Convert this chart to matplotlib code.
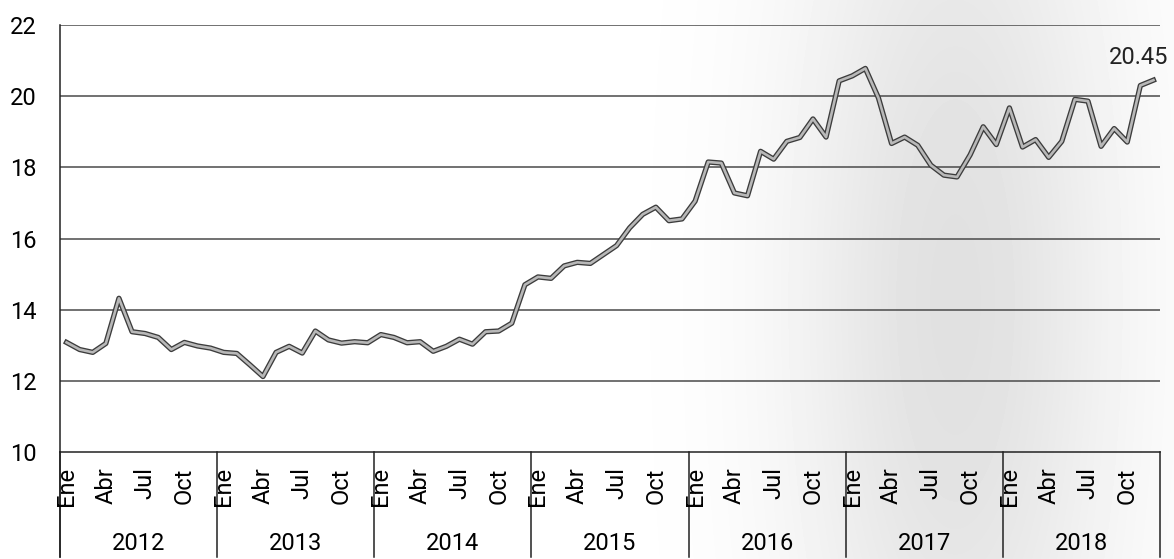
import numpy as np
import matplotlib
matplotlib.use("Agg")
import matplotlib.pyplot as plt
import matplotlib.patheffects as pe

plt.rcParams["font.family"] = ["Roboto", "DejaVu Sans"]

# monthly values, Ene 2012 .. Dic 2018
years = ["2012", "2013", "2014", "2015", "2016", "2017", "2018"]
month_labels = ["Ene", "Abr", "Jul", "Oct"]
v2012 = [13.08, 12.88, 12.80, 13.05, 14.32, 13.38, 13.33, 13.22, 12.88, 13.08, 12.98, 12.92]
v2013 = [12.80, 12.77, 12.45, 12.12, 12.80, 12.97, 12.78, 13.40, 13.15, 13.06, 13.10, 13.07]
v2014 = [13.30, 13.22, 13.07, 13.10, 12.83, 12.97, 13.17, 13.03, 13.38, 13.40, 13.62, 14.70]
v2015 = [14.92, 14.88, 15.23, 15.33, 15.30, 15.55, 15.80, 16.30, 16.68, 16.88, 16.50, 16.55]
v2016 = [17.05, 18.15, 18.12, 17.28, 17.20, 18.45, 18.23, 18.73, 18.84, 19.36, 18.85, 20.43]
v2017 = [20.57, 20.78, 19.95, 18.67, 18.85, 18.62, 18.06, 17.78, 17.73, 18.35, 19.14, 18.64]
v2018 = [19.67, 18.57, 18.78, 18.28, 18.73, 19.91, 19.86, 18.59, 19.09, 18.71, 20.30, 20.45]
last_label = "20.45"

values = v2012 + v2013 + v2014 + v2015 + v2016 + v2017 + v2018
idx = np.arange(len(values))

W, H = 1174, 559
fig = plt.figure(figsize=(W / 100, H / 100), dpi=100)

# faint halftone-like shading from the scanned original (soft edges)
bg = fig.add_axes([0, 0, 1, 1], zorder=-5)
gx, gy = np.meshgrid(np.arange(W), np.arange(H))
shade = 0.12 * np.exp(-((gx - 955) / 165.0) ** 2 - ((gy - 300) / 560.0) ** 2)
bg.imshow(1 - shade, cmap="gray", vmin=0, vmax=1, extent=(0, W, H, 0), aspect="auto")
bg.axis("off")

ax = fig.add_axes([60 / W, 1 - 452 / H, 1100 / W, 427 / H])
ax.patch.set_alpha(0)
ax.set_xlim(-0.5, len(values) - 0.5)
ax.set_ylim(10, 22)

for y in range(12, 23, 2):
    ax.axhline(y, color="#4a4a4a", lw=1.1, zorder=1)

ax.plot(idx, values, color="#b8b8b8", lw=1.9, zorder=3,
        path_effects=[pe.Stroke(linewidth=3.8, foreground="#3c3c3c"), pe.Normal()])
ax.annotate(last_label, xy=(idx[-1], values[-1]), xytext=(11, 8), textcoords="offset points",
            ha="right", va="bottom", fontsize=17, color="#222222")

for s in ["top", "right"]:
    ax.spines[s].set_visible(False)
ax.spines["left"].set_color("#222222")
ax.spines["bottom"].set_color("#222222")
ax.spines["left"].set_linewidth(1.1)
ax.spines["bottom"].set_linewidth(1.1)

ax.set_yticks(range(10, 23, 2))
ax.tick_params(axis="y", length=0, pad=17, labelsize=17)
ax.set_xticks([])

# month + year labels under the axis
trans = ax.get_xaxis_transform()
for k, yr in enumerate(years):
    start = 12 * k
    for j, m in enumerate(month_labels):
        ax.annotate(m, xy=(start + 3 * j, 0), xycoords=trans, xytext=(0, -11),
                    textcoords="offset points", rotation=90, ha="center", va="top", fontsize=17)
    ax.annotate(yr, xy=(start + 5.5, 0), xycoords=trans, xytext=(0, -66),
                textcoords="offset points", ha="center", va="center", fontsize=17)
    ax.plot([start - 0.5, start - 0.5], [0, -0.247], transform=trans, color="#222222",
            lw=1.1, clip_on=False)
ax.plot([len(values) - 0.5] * 2, [0, -0.247], transform=trans, color="#222222",
        lw=1.1, clip_on=False)
ax.spines["left"].set_bounds(10, 22)
ax.plot([-0.5, -0.5], [0, -0.247], transform=trans, color="#222222", lw=1.1, clip_on=False)

fig.savefig("out.png", dpi=100)
